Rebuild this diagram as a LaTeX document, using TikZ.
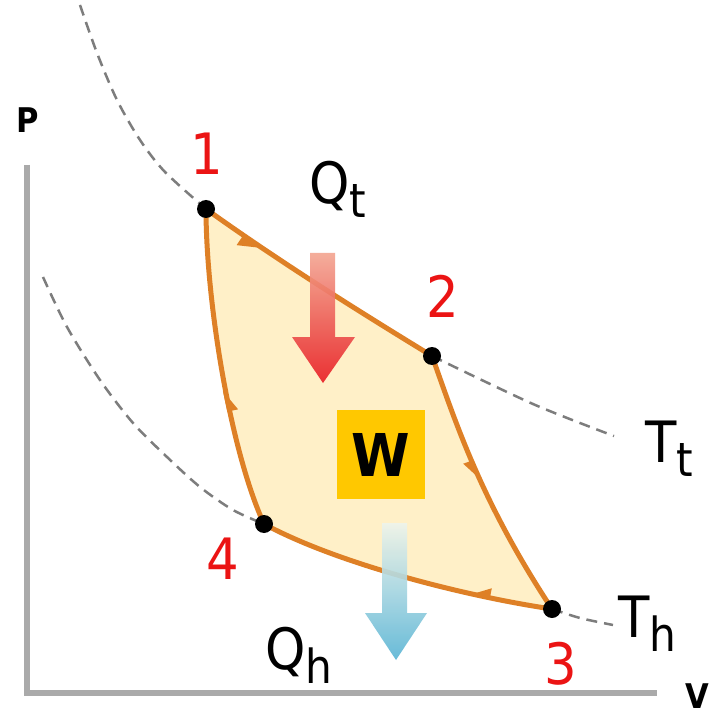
\documentclass[tikz,border=0pt]{standalone}
\usepackage{fontspec}
\setmainfont{DejaVu Sans}
\newfontfamily\lab[FakeStretch=0.9]{DejaVu Sans}
\definecolor{cyc}{RGB}{222,128,38}
\definecolor{cycfill}{RGB}{255,240,200}
\definecolor{axisgray}{RGB}{170,170,170}
\definecolor{isogray}{RGB}{125,125,125}
\definecolor{wbox}{RGB}{255,200,0}
\definecolor{labred}{RGB}{235,20,20}
\definecolor{redtop}{RGB}{243,165,145}
\definecolor{redbot}{RGB}{232,28,35}
\definecolor{bluetop}{RGB}{238,244,236}
\definecolor{bluemid}{RGB}{140,198,218}
\definecolor{bluebot}{RGB}{88,180,212}
\newcommand\lowsub[1]{\raisebox{-14pt}{\fontsize{47}{47}\selectfont #1}}
\tikzset{
  iso/.style={isogray, line width=2.5pt, dash pattern=on 11pt off 7pt},
  axisline/.style={axisgray, line width=6pt},
  leg/.style={cyc, line width=5pt, line join=round},
  harp/.style={fill=cyc},
  dot/.style={circle, fill=black, minimum size=18pt, inner sep=0pt},
  num/.style={labred, font=\lab\fontsize{57}{57}\selectfont, inner sep=0pt},
  big/.style={font=\lab\fontsize{57}{57}\selectfont, inner sep=0pt, anchor=base west},
  axlab/.style={font=\lab\bfseries\fontsize{34}{34}\selectfont, inner sep=0pt},
}
\begin{document}
\begin{tikzpicture}[x=1pt, y=-1pt]
\useasboundingbox (0,0) rectangle (720,719);
\fill[white] (0,0) rectangle (720,719);
% key points
\coordinate (c1) at (206,209);
\coordinate (c2) at (432,356);
\coordinate (c3) at (552,609);
\coordinate (c4) at (264,524);
\coordinate (ytop) at (27,165);
\coordinate (orig) at (27,693);
\coordinate (xend) at (657,693);
\coordinate (a12) at (256,245);
\coordinate (a23) at (479,475);
\coordinate (a34) at (474,596);
\coordinate (a41) at (224,396);
% axes
\draw[axisline] (ytop) -- (orig) -- (xend);
% isotherms
\draw[iso] plot[smooth] coordinates {(80,5) (97,53) (117,100) (140,140) (165,172) (c1)};
\draw[iso] plot[smooth] coordinates {(c2) (533,404) (614,436)};
\draw[iso] plot[smooth] coordinates {(43,277) (67,327) (100,380) (133,423) (167,457) (200,487) (233,510) (c4)};
\draw[iso] plot[smooth] coordinates {(c3) (580,618) (613,625)};
% cycle fill
\fill[cycfill] (c1) .. controls (280,262) and (360,312) .. (c2)
  .. controls (455,420) and (480,500) .. (c3)
  .. controls (470,597) and (340,565) .. (c4)
  .. controls (230,450) and (206,300) .. (c1) -- cycle;
% cycle legs
\draw[leg] (c1) .. controls (280,262) and (360,312) .. (c2);
\draw[leg] (c2) .. controls (455,420) and (480,500) .. (c3);
\draw[leg] (c3) .. controls (470,597) and (340,565) .. (c4);
\draw[leg] (c4) .. controls (230,450) and (206,300) .. (c1);
% half arrowheads on the legs
\fill[harp, shift={(a12)}, rotate=-34] (5,0) -- (-16,0) -- (-16,11) -- cycle;
\fill[harp, shift={(a23)}, rotate=-70] (5,0) -- (-16,0) -- (-16,11) -- cycle;
\fill[harp, shift={(a34)}, rotate=169] (5,0) -- (-16,0) -- (-16,11) -- cycle;
\fill[harp, shift={(a41)}, rotate=102] (5,0) -- (-16,0) -- (-16,11) -- cycle;
% heat arrows
\shade[top color=redtop, bottom color=redbot, opacity=0.9]
  (310,253) -- (335,253) -- (335,337) -- (355,337) -- (323,383) -- (292,337) -- (310,337) -- cycle;
\shade[top color=bluetop, middle color=bluemid, bottom color=bluebot, opacity=0.9]
  (382,523) -- (407,523) -- (407,613) -- (427,613) -- (396,660) -- (365,613) -- (382,613) -- cycle;
% state points
\node[dot] (p1) at (c1) {};
\node[dot] (p2) at (c2) {};
\node[dot] (p3) at (c3) {};
\node[dot] (p4) at (c4) {};
% work box
\node[fill=wbox, minimum width=88pt, minimum height=89pt, inner sep=0pt,
  font=\lab\bfseries\fontsize{59}{59}\selectfont] (W) at (381,454.5) {W};
% labels
\node[num] (n1) at (207,154) {1};
\node[num] (n2) at (443,296) {2};
\node[num] (n3) at (561,664) {3};
\node[num] (n4) at (223,559) {4};
\node[big] (qt) at (309,204) {Q\lowsub{t}};
\node[big] (qh) at (265,669) {Q\lowsub{h}};
\node[big] (tt) at (645,462) {T\lowsub{t}};
\node[big] (th) at (618,637) {T\lowsub{h}};
\node[axlab] (P) at (28,120) {P};
\node[axlab] (V) at (697,696) {V};
\end{tikzpicture}
\end{document}
